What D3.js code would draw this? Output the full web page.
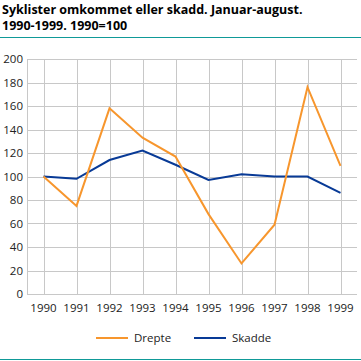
<!DOCTYPE html>
<html>
<head>
<meta charset="utf-8">
<style>
  body { margin: 0; background: #fff; }
  text { font-family: "Open Sans", sans-serif; }
</style>
</head>
<body>
<script src="https://d3js.org/d3.v7.min.js"></script>
<script>
// data
const years = ['1990', '1991', '1992', '1993', '1994', '1995', '1996', '1997', '1998', '1999'];
const drepte = [100, 75, 158, 133, 117, 68, 26, 59, 176, 109];
const skadde = [100, 98, 114, 122, 110, 97, 102, 100, 100, 86];
const yTicks = [0, 20, 40, 60, 80, 100, 120, 140, 160, 180, 200];
const titleLines = ['Syklister omkommet eller skadd. Januar-august.', '1990-1999. 1990=100'];

const W = 361, H = 361;
const plotLeft = 27, plotRight = 357, plotTop = 59, plotBottom = 294;

const svg = d3.select('body').append('svg')
    .attr('width', W).attr('height', H);

// title
svg.selectAll('text.title')
    .data(titleLines)
    .enter().append('text')
    .attr('class', 'title')
    .attr('x', 2)
    .attr('y', (d, i) => 14 + i * 16)
    .attr('font-size', 12.5)
    .attr('font-weight', 'bold')
    .attr('fill', '#000')
    .text(d => d);

svg.append('line')
    .attr('x1', 0).attr('x2', W).attr('y1', 37.5).attr('y2', 37.5)
    .attr('stroke', '#0f9a98').attr('stroke-width', 1);
svg.append('line')
    .attr('x1', 0).attr('x2', W).attr('y1', 359.5).attr('y2', 359.5)
    .attr('stroke', '#0f9a98').attr('stroke-width', 1);

const x = d3.scaleBand().domain(years).range([plotLeft, plotRight]);
const y = d3.scaleLinear().domain([0, 200]).range([plotBottom, plotTop]);
const cx = d => x(d) + x.bandwidth() / 2;

// grid
svg.append('g').selectAll('line')
    .data(yTicks)
    .enter().append('line')
    .attr('x1', plotLeft).attr('x2', plotRight)
    .attr('y1', d => Math.round(y(d)) + 0.5).attr('y2', d => Math.round(y(d)) + 0.5)
    .attr('stroke', '#c8c8c8');
svg.append('g').selectAll('line')
    .data(years)
    .enter().append('line')
    .attr('x1', d => Math.round(cx(d)) + 0.5).attr('x2', d => Math.round(cx(d)) + 0.5)
    .attr('y1', plotTop).attr('y2', plotBottom)
    .attr('stroke', '#c8c8c8');
svg.append('line')
    .attr('x1', plotLeft + 0.5).attr('x2', plotLeft + 0.5)
    .attr('y1', plotTop).attr('y2', plotBottom + 0.5)
    .attr('stroke', '#c8c8c8');

// y labels
svg.append('g').selectAll('text')
    .data(yTicks)
    .enter().append('text')
    .attr('x', plotLeft - 4)
    .attr('y', d => y(d) + 4)
    .attr('text-anchor', 'end')
    .attr('font-size', 11.5)
    .attr('fill', '#222')
    .text(d => d);

// x labels
svg.append('g').selectAll('text')
    .data(years)
    .enter().append('text')
    .attr('x', d => cx(d))
    .attr('y', 312)
    .attr('text-anchor', 'middle')
    .attr('font-size', 11.5)
    .attr('fill', '#222')
    .text(d => d);

const line = d3.line()
    .x((d, i) => cx(years[i]))
    .y(d => y(d));

svg.append('path')
    .datum(skadde)
    .attr('d', line)
    .attr('fill', 'none')
    .attr('stroke', '#083a96')
    .attr('stroke-width', 2);

svg.append('path')
    .datum(drepte)
    .attr('d', line)
    .attr('fill', 'none')
    .attr('stroke', '#f7962d')
    .attr('stroke-width', 2);

// legend
const legend = [
    { name: 'Drepte', color: '#f7962d', x: 96 },
    { name: 'Skadde', color: '#083a96', x: 194 }
];
const lg = svg.append('g').selectAll('g')
    .data(legend)
    .enter().append('g');
lg.append('line')
    .attr('x1', d => d.x).attr('x2', d => d.x + 32)
    .attr('y1', 338).attr('y2', 338)
    .attr('stroke', d => d.color).attr('stroke-width', 2);
lg.append('text')
    .attr('x', d => d.x + 38)
    .attr('y', 342)
    .attr('font-size', 11.5)
    .attr('fill', '#222')
    .text(d => d.name);
</script>
</body>
</html>
